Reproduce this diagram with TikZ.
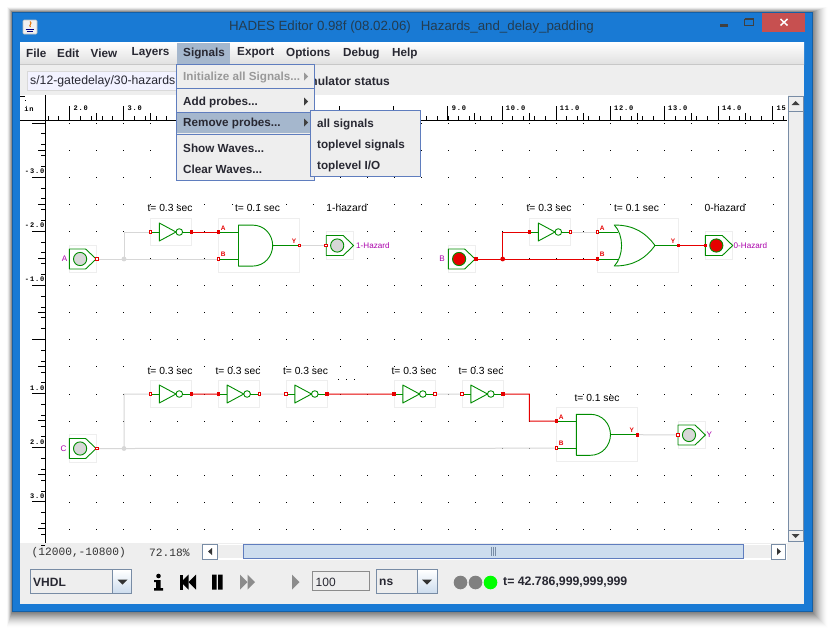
\documentclass[tikz,border=0pt]{standalone}
\usepackage{fontspec}
\setmainfont{Liberation Sans}
\newfontfamily\rulerfont[LetterSpace=12]{Liberation Mono}
\newfontfamily\coordfont{Liberation Mono}
\usetikzlibrary{arrows.meta,shapes.geometric}
\definecolor{winblue}{RGB}{25,122,212}
\definecolor{winedge}{RGB}{20,95,165}
\definecolor{panel}{RGB}{238,238,238}
\definecolor{closered}{RGB}{199,80,80}
\definecolor{gatebox}{RGB}{238,238,238}
\definecolor{gategreen}{RGB}{0,140,0}
\definecolor{wirered}{RGB}{230,0,0}
\definecolor{wiregrey}{RGB}{215,215,215}
\definecolor{labelmag}{RGB}{170,0,170}
\definecolor{menuline}{RGB}{95,125,190}
\definecolor{menusel}{RGB}{165,183,205}
\definecolor{ink}{RGB}{40,40,50}
\definecolor{titleink}{RGB}{35,60,80}
\definecolor{ctlfill}{RGB}{205,221,238}
\definecolor{ctlline}{RGB}{120,140,165}
\tikzset{
  x=1pt,y=-1pt,
  gbox/.style={draw=gatebox,line width=.8pt,fill=white},
  gline/.style={draw=gategreen,line width=.9pt,line join=round},
  redwire/.style={draw=wirered,line width=1pt},
  greywire/.style={draw=wiregrey,line width=1pt},
  menutxt/.style={font=\bfseries\fontsize{11.7}{12}\selectfont,text=ink,anchor=west,inner sep=0pt,yshift=-1pt},
  subtxt/.style={font=\bfseries\fontsize{11.7}{12}\selectfont,text=ink,anchor=west,inner sep=0pt,yshift=-1.4pt},
  captxt/.style={font=\fontsize{10.3}{10}\selectfont,text=black,inner sep=0pt,yshift=-.5pt},
  pinlab/.style={font=\bfseries\fontsize{6.5}{7}\selectfont,text=wirered,inner sep=0pt},
  maglab/.style={font=\fontsize{8.1}{9}\selectfont,text=labelmag,inner sep=0pt},
  rulerlab/.style={font=\rulerfont\bfseries\fontsize{7}{7}\selectfont,text=black,inner sep=0pt},
  menubox/.style={draw=menuline,line width=.9pt,fill=panel},
}
% inverter: #1 name, #2 left x, #3 centre y
\newcommand{\invgate}[3]{%
  \path[gbox] (#2,#3-13.7) rectangle ++(41,27.4);
  \coordinate (#1i) at (#2,#3);
  \coordinate (#1o) at (#2+41,#3);
  \draw[gline] (#2,#3) -- ++(8.8,0);
  \draw[gline] (#2+8.8,#3-9) -- (#2+8.8,#3+9) -- (#2+25.5,#3) -- cycle;
  \draw[gline] (#2+28.8,#3) circle (3.3);
  \draw[gline] (#2+32.1,#3) -- (#2+41,#3);
}
% AND: #1 name, #2 left x, #3 top y of box
\newcommand{\andgate}[3]{%
  \path[gbox] (#2,#3) rectangle ++(81,54.2);
  \coordinate (#1a) at (#2,#3+13.6);
  \coordinate (#1b) at (#2,#3+40.6);
  \coordinate (#1y) at (#2+81,#3+27.1);
  \draw[gline] (#2,#3+13.6) -- ++(20,0);
  \draw[gline] (#2,#3+40.6) -- ++(20,0);
  \draw[gline] (#2+20,#3+6.7) -- (#2+20,#3+47.7) -- (#2+34,#3+47.7)
     .. controls (#2+46,#3+47.7) and (#2+54,#3+38) .. (#2+54.2,#3+27.1)
     .. controls (#2+54,#3+16) and (#2+46,#3+6.7) .. (#2+34,#3+6.7) -- cycle;
  \draw[gline] (#2+54.2,#3+27.1) -- (#2+81,#3+27.1);
  \node[pinlab] at (#2+4.8,#3+9.6) {A};
  \node[pinlab] at (#2+4.8,#3+36) {B};
  \node[pinlab] at (#2+75.5,#3+22.5) {Y};
}
% input switch: #1 name, #2 left x, #3 centre y, #4 fill colour
\newcommand{\inswitch}[4]{%
  \path[gbox] (#2,#3-13.7) rectangle ++(27.4,27.4);
  \draw[gline] (#2,#3-10) -- (#2+16.2,#3-10) -- (#2+26.8,#3) -- (#2+16.2,#3+10) -- (#2,#3+10) -- cycle;
  \draw[gline,fill=#4] (#2+10.7,#3) circle (6.6);
  \coordinate (#1) at (#2+27.4,#3);
}
% probe: #1 name, #2 left x, #3 centre y, #4 fill colour
\newcommand{\probe}[4]{%
  \path[gbox] (#2,#3-13.7) rectangle ++(27.4,27.4);
  \draw[gline] (#2,#3-10) -- (#2+17,#3-10) -- (#2+27.4,#3) -- (#2+17,#3+10) -- (#2,#3+10) -- cycle;
  \draw[gline,fill=#4] (#2+11,#3) circle (6.6);
  \coordinate (#1) at (#2,#3);
}
\newcommand{\pinmark}[2]{\fill[#2] (#1) ++(-1.8,-1.8) rectangle ++(3.6,3.6);}
\newcommand{\pinopen}[1]{\draw[wirered,line width=.9pt,fill=white] (#1) ++(-1.3,-1.3) rectangle ++(2.6,2.6);}
\begin{document}
\begin{tikzpicture}
\useasboundingbox (0,0) rectangle (832,632);
\fill[white] (0,0) rectangle (832,632);
% window shadow
\foreach \i in {1,...,16}{
  \pgfmathsetmacro{\op}{0.005+0.0045*(\i-1)}
  \fill[black,opacity=\op] ({12-(17-\i)/3},{12-(17-\i)/3}) rectangle ({812+(17-\i)},{612+(17-\i)});
}
% window frame
\path[fill=winblue,draw=winedge,line width=.8pt] (12.4,12.6) rectangle (812,611.6);
\fill[panel] (20,42) rectangle (804,604);
% title bar
\node[draw=black!25,fill=black!6,rounded corners=1pt,minimum size=14pt,inner sep=0pt,line width=.6pt] (javaicon) at (30,27) {};
\draw[orange!90!black,line width=1pt] (30,21.5) .. controls (33,23.5) and (28,25) .. (30.5,27);
\draw[blue!50!black,line width=.7pt] (25.5,29) -- (34,29) (26.5,31) -- (33,31);
\node[font=\fontsize{13.3}{14}\selectfont,text=titleink,inner sep=0pt] (wintitle) at (411.5,27.5) {HADES Editor 0.98f (08.02.06)\hspace{.75em}Hazards\_and\_delay\_padding};
\fill[closered] (761.7,13) rectangle (805,32);
\draw[white,line width=1.5pt] (780.5,19) -- (787.5,25.5)  (787.5,19) -- (780.5,25.5);
\fill[black!75] (720,24) rectangle (728,26.5);
\draw[black!75,line width=.9pt] (744.5,19) rectangle (753.5,25.3);
\draw[black!75,line width=1.6pt] (744.5,18.8) -- (753.5,18.8);
% menu bar
\shade[top color=white,bottom color=black!12] (20,42) rectangle (804,64);
\draw[black!22,line width=.6pt] (20,64.3) -- (804,64.3);
\foreach \t/\xx in {File/26,Edit/57,View/90.5,Layers/131.5,Export/237,Options/286,Debug/343,Help/392}{
  \node[menutxt] at (\xx,52) {\t};
}
\fill[menusel] (176.5,42.5) rectangle (229.5,63.5);
\node[menutxt] (msignals) at (183,52) {Signals};
% toolbar
\draw[black!15,fill=white!95!blue,line width=.8pt] (27.5,71) rectangle (180,90);
\node[font=\fontsize{12.25}{12}\selectfont,text=ink,anchor=west,inner sep=0pt] (pathtxt) at (30,81) {s/12-gatedelay/30-hazards};
\node[font=\bfseries\fontsize{12}{12}\selectfont,text=ink,anchor=east,inner sep=0pt] (simstat) at (390,81) {nulator status};
% canvas
\fill[white] (20,95) rectangle (788,543);
% grid dots
\foreach \kx in {0,...,26}{
  \foreach \ky in {0,...,15}{
    \fill[black] ({69.2+27.05*\kx},{123+27.05*\ky}) rectangle ++(1,1);
  }
}
% ruler
\draw[black,line width=.9pt] (20,120.3) -- (787,120.3);
\draw[black,line width=.9pt] (45.5,95) -- (45.5,543);
\foreach \k in {0,...,68}{
  \pgfmathsetmacro{\tx}{47.9+10.81*\k}
  \ifdim\tx pt<787pt\relax
    \draw[black,line width=.7pt] (\tx,120) -- ++(0,-4);
  \fi
}
\foreach \u in {2,...,15}{
  \pgfmathsetmacro{\tx}{69.5+54.05*(\u-2)}
  \draw[black,line width=.8pt] (\tx,120) -- (\tx,106);
  \ifnum\u<15\relax
  \draw[black,line width=.8pt] ({\tx+27},120) -- ({\tx+27},113);
  \fi
}
\foreach \u/\lab in {2/2.0,3/3.0,9/9.0,10/10.0,11/11.0,12/12.0,13/13.0,14/14.0}{
  \node[rulerlab,anchor=west] at ({73.3+54.05*(\u-2)},108.5) {\lab};
}
\node[rulerlab,anchor=west] at (776.5,108.5) {15};
\node[rulerlab] at (29,108.5) {in};
\draw[black,line width=.7pt] (20,96) -- (25,96);
\fill[black] (25,99.5) rectangle ++(1,1);
\foreach \k in {0,...,39}{
  \draw[black,line width=.7pt] (45,{123+10.82*\k}) -- ++(-4.5,0);
}
\foreach \ym in {123,177.1,231.2,285.2,339.3,393.4,447.4,501.5}{
  \draw[black,line width=.8pt] (45,\ym) -- (32,\ym);
}
\foreach \ym in {150,204,258.2,312.2,366.3,420.4,474.4,528.5}{
  \draw[black,line width=.8pt] (45,\ym) -- (38,\ym);
}
\foreach \yl/\lab in {171/-3.0,225/-2.0,279/-1.0,388/1.0,442/2.0,496/3.0}{
  \node[rulerlab,anchor=east] at (44.5,\yl) {\lab};
}
% === circuit 1 ===
\inswitch{s1}{69.4}{259}{wiregrey}
\invgate{n1}{150.5}{232}
\andgate{g1}{218.5}{218.4}
\probe{p1}{326.2}{245.5}{wiregrey}
\coordinate (j1) at (124,259);
\draw[greywire] (s1) -- (j1) (j1) |- (n1i) (j1) -- (g1b) (g1y) -- (p1);
\draw[redwire] (n1o) -- (g1a);
\fill[wiregrey] (j1) circle (2.4);
\pinopen{s1}\pinopen{n1i}\pinmark{n1o}{wirered}\pinmark{g1a}{wirered}\pinopen{g1b}\pinopen{g1y}\pinopen{p1}
\node[maglab] (la) at (64.5,259) {A};
\node[maglab,anchor=west] (lp1) at (356,245.5) {1-Hazard};
\node[captxt] (c1) at (170,207.5) {t= 0.3 sec};
\node[captxt] (c2) at (257.5,207.5) {t= 0.1 sec};
\node[captxt] (c3) at (346.7,207.5) {1-hazard};
% === circuit 2 ===
\inswitch{s2}{448.4}{259}{wirered}
\invgate{n2}{529.5}{232}
\path[gbox] (597.5,218.4) rectangle ++(81,54.2);
\coordinate (g2a) at (597.5,232);
\coordinate (g2b) at (597.5,259);
\coordinate (g2y) at (678.5,245.5);
\draw[gline] (g2a) -- (618,232);
\draw[gline] (g2b) -- (618,259);
\draw[gline] (614.3,225) .. controls (624,235) and (624,256) .. (614.3,266)
   .. controls (634,266) and (646,258) .. (655,245.5)
   .. controls (646,233) and (634,225) .. (614.3,225) -- cycle;
\draw[gline] (655,245.5) -- (g2y);
\node[pinlab] at (602.3,228) {A};
\node[pinlab] at (602.3,254.4) {B};
\node[pinlab] at (673,241) {Y};
\probe{p2}{705.3}{245.5}{wirered}
\coordinate (j2) at (502.7,259);
\draw[redwire] (s2) -- (j2) (j2) |- (n2i) (j2) -- (g2b) (g2y) -- (p2);
\draw[greywire] (n2o) -- (g2a);
\fill[wirered] (j2) circle (2.4);
\pinmark{s2}{wirered}\pinmark{n2i}{wirered}\pinopen{n2o}\pinopen{g2a}\pinmark{g2b}{wirered}\pinmark{g2y}{wirered}\pinmark{p2}{wirered}
\node[maglab] (lb) at (442,259) {B};
\node[maglab,anchor=west] (lp2) at (733.5,245.5) {0-Hazard};
\node[captxt] (c4) at (549,207.5) {t= 0.3 sec};
\node[captxt] (c5) at (636.5,207.5) {t= 0.1 sec};
\node[captxt] (c6) at (725,207.5) {0-hazard};
% === circuit 3 ===
\inswitch{s3}{69.4}{448.5}{wiregrey}
\invgate{n3}{150.5}{394}
\invgate{n4}{218.3}{394}
\invgate{n5}{286}{394}
\invgate{n6}{394}{394}
\invgate{n7}{462}{394}
\andgate{g3}{556.3}{407.6}
\probe{p3}{678}{435}{wiregrey}
\coordinate (j3) at (124,448.5);
\coordinate (w1) at (529.3,394);
\coordinate (w2) at (529.3,421.2);
\draw[greywire] (s3) -- (j3) (j3) |- (n3i) (j3) -- (g3b) (n4o) -- (n5i) (n6o) -- (n7i) (g3y) -- (p3);
\draw[redwire] (n3o) -- (n4i) (n5o) -- (n6i) (n7o) -- (w1) -- (w2) -- (g3a);
\fill[wiregrey] (j3) circle (2.4);
\pinopen{s3}\pinopen{n3i}\pinmark{n3o}{wirered}\pinmark{n4i}{wirered}\pinopen{n4o}\pinopen{n5i}\pinmark{n5o}{wirered}\pinmark{n6i}{wirered}\pinopen{n6o}\pinopen{n7i}\pinmark{n7o}{wirered}\pinmark{g3a}{wirered}\pinopen{g3b}\pinmark{g3y}{wirered}\pinopen{p3}
\node[maglab] (lc) at (63.5,448.5) {C};
\node[maglab,anchor=west] (lp3) at (706.5,434.5) {Y};
\foreach \cx/\nm in {170/c7,238/c8,305.5/c9,414/c10,481/c11}{
  \node[captxt] (\nm) at (\cx,370) {t= 0.3 sec};
}
\node[captxt] (c12) at (597,397) {t= 0.1 sec};
\foreach \dx in {337.5,345.5,353.5}{ \fill[black] (\dx,378.5) rectangle ++(1.2,1.2); }
% vertical scrollbar
\fill[panel] (788,95) rectangle (803,543);
\draw[ctlline,line width=.8pt] (788,96) rectangle (803,541);
\draw[ctlline,line width=.8pt] (788,111) -- (803,111);
\draw[ctlline,line width=.8pt] (788,530) -- (803,530);
\fill[black!75] (791.5,105) -- (795.5,101) -- (799.5,105) -- cycle;
\fill[black!75] (791.5,534) -- (795.5,538) -- (799.5,534) -- cycle;
% status line
\node[font=\coordfont\fontsize{11.2}{11}\selectfont,text=black!80,anchor=west,inner sep=0pt] (coord) at (31.5,553) {(12000,-10800)};
\node[font=\coordfont\fontsize{11.2}{11}\selectfont,text=black!80,anchor=west,inner sep=0pt] (zoomv) at (149,553) {72.18\%};
% horizontal scrollbar
\fill[white] (201.5,543.5) rectangle (787,559.5);
\fill[panel] (217,545) rectangle (771,558);
\shade[top color=ctlfill,middle color=white,bottom color=ctlfill] (243.5,544) rectangle (743.5,558.5);
\draw[menuline,line width=.8pt] (243.5,544) rectangle (743.5,558.5);
\draw[ctlline,line width=.8pt] (202,544) rectangle (217,559);
\draw[ctlline,line width=.8pt] (771,544) rectangle (785.5,559);
\fill[black!80] (212,548) -- (212,555) -- (208,551.5) -- cycle;
\fill[black!80] (777,548) -- (777,555) -- (781,551.5) -- cycle;
\foreach \gx in {491.5,493.5,495.5}{\draw[ctlline,line width=.5pt] (\gx,547) -- (\gx,556);}
% simulation controls
\fill[panel] (31,570) rectangle (112,593);
\shade[top color=white,bottom color=ctlfill] (112.5,570) rectangle (131.5,593);
\draw[ctlline,line width=.9pt] (30.5,569.5) rectangle (131.5,593.5);
\draw[ctlline,line width=.7pt] (112.5,569.5) -- (112.5,593.5);
\node[font=\bfseries\fontsize{12}{12}\selectfont,text=ink,anchor=west,inner sep=0pt] (vhdl) at (33,582) {VHDL};
\fill[black!80] (117.5,579.5) -- (127.5,579.5) -- (122.5,584.5) -- cycle;
% info icon and buttons
\fill[black] (158.5,576) circle (2.3);
\fill[black] (156,580) rectangle (160.5,588) (154,588) rectangle (163,590.5) (154,580) rectangle (160,582);
\fill[black] (180,574.5) rectangle (183,589.5);
\fill[black] (188.5,574.5) -- (188.5,589.5) -- (181,582) -- cycle;
\fill[black] (196,574.5) -- (196,589.5) -- (188.5,582) -- cycle;
\fill[black] (212,574.5) rectangle (216.5,589.5) (218,574.5) rectangle (222.5,589.5);
\fill[black!45] (240,574.5) -- (240,589.5) -- (247.5,582) -- cycle;
\fill[black!45] (247.5,574.5) -- (247.5,589.5) -- (255,582) -- cycle;
\fill[black!45] (292,574.5) -- (292,589.5) -- (299.5,582) -- cycle;
\draw[black!45,fill=panel,line width=.8pt] (312.5,571.5) rectangle (369.5,590.5);
\node[font=\fontsize{12}{12}\selectfont,text=ink,anchor=west,inner sep=0pt] (stepval) at (315.5,582) {100};
\shade[top color=white,bottom color=ctlfill] (417,570) rectangle (437,593);
\draw[ctlline,line width=.9pt] (376.5,569.5) rectangle (437,593.5);
\draw[ctlline,line width=.7pt] (417,569.5) -- (417,593.5);
\node[font=\bfseries\fontsize{12}{12}\selectfont,text=ink,anchor=west,inner sep=0pt] (nsval) at (379,582) {ns};
\fill[black!80] (422,579.5) -- (432,579.5) -- (427,584.5) -- cycle;
\fill[black!50] (460.5,582.5) circle (6.8);
\fill[black!50] (475.5,582.5) circle (6.8);
\fill[green] (490.5,582.5) circle (6.8);
\node[font=\bfseries\fontsize{12.3}{12}\selectfont,text=ink,anchor=west,inner sep=0pt] (simtime) at (503,582.5) {t= 42.786,999,999,999};
% signals menu
\path[menubox] (176.8,64) rectangle (314.5,180.3);
\draw[menuline,line width=.7pt] (176.8,88.5) -- (314.5,88.5);
\draw[menuline,line width=.7pt] (176.8,134.5) -- (314.5,134.5);
\fill[menusel] (177.3,112.5) rectangle (314,132.5);
\draw[menuline,line width=.7pt] (177,112.3) -- (314,112.3);
\node[menutxt,text=black!40] (mi1) at (183,76) {Initialize all Signals...};
\node[menutxt] (mi2) at (183,101) {Add probes...};
\node[menutxt] (mi3) at (183,122) {Remove probes...};
\node[menutxt] (mi4) at (183,147) {Show Waves...};
\node[menutxt] (mi5) at (183,168) {Clear Waves...};
\fill[black!40] (304,72.5) -- (304,80.5) -- (308,76.5) -- cycle;
\fill[black!75] (304,97.5) -- (304,105.5) -- (308,101.5) -- cycle;
\fill[black!75] (304,118.5) -- (304,126.5) -- (308,122.5) -- cycle;
% submenu
\path[menubox] (310.8,110) rectangle (420.5,176);
\node[subtxt] (sb1) at (317,123) {all signals};
\node[subtxt] (sb2) at (317,144) {toplevel signals};
\node[subtxt] (sb3) at (317,165) {toplevel I/O};
\end{tikzpicture}
\end{document}
